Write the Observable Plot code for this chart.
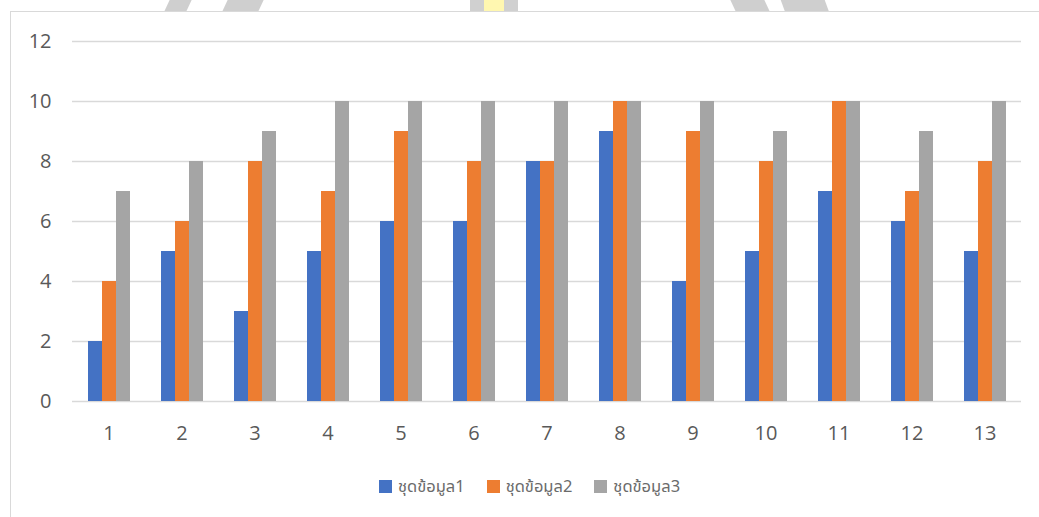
<!DOCTYPE html>
<html><head><meta charset="utf-8">
<script src="https://cdn.jsdelivr.net/npm/d3@7"></script>
<script src="https://cdn.jsdelivr.net/npm/@observablehq/plot@0.6"></script>
<style>
html,body{margin:0;padding:0;background:#fff;}
body{width:1039px;height:517px;overflow:hidden;position:relative;font-family:"Noto Sans Thai","Noto Sans","DejaVu Sans",sans-serif;}
#frame{position:absolute;left:10px;top:11px;width:1100px;height:600px;border:1.5px solid #d9d9d9;box-sizing:border-box;}
#chart{position:absolute;left:0;top:0;}
#legend{position:absolute;left:0;width:1039px;top:474px;display:flex;justify-content:center;gap:22px;padding-left:20px;box-sizing:border-box;font-size:16.5px;color:#6b6b6b;}
.item{display:flex;align-items:center;gap:6px;}
.sw{width:13px;height:13px;display:inline-block;}
.wm{position:absolute;top:-4px;height:15px;background:#cfcfcf;}
</style></head><body>
<div class="wm" style="left:168px;width:22px;transform:skewX(-25deg)"></div>
<div class="wm" style="left:226px;width:36px;transform:skewX(-25deg)"></div>
<div class="wm" style="left:470px;width:48px;background:#d0d0d0"></div>
<div class="wm" style="left:484px;width:20px;background:#fff7b0"></div>
<div class="wm" style="left:732px;width:34px;transform:skewX(25deg)"></div>
<div class="wm" style="left:782px;width:44px;transform:skewX(20deg)"></div>
<div id="frame"></div>
<div id="chart"></div>
<div id="legend"></div>
<script>
const categories = ["1","2","3","4","5","6","7","8","9","10","11","12","13"];
const seriesNames = ["ชุดข้อมูล1","ชุดข้อมูล2","ชุดข้อมูล3"];
const series1 = [2,5,3,5,6,6,8,9,4,5,7,6,5];
const series2 = [4,6,8,7,9,8,8,10,9,8,10,7,8];
const series3 = [7,8,9,10,10,10,10,10,10,9,10,9,10];
const colors = ["#4472C4","#ED7D31","#A5A5A5"];
const yTicks = [0,2,4,6,8,10,12];

const allSeries = [series1, series2, series3];
const data = categories.flatMap((c, i) => allSeries.map((s, j) => ({category: c, series: seriesNames[j], value: s[i]})));

const plot = Plot.plot({
  width: 1039, height: 450,
  marginTop: 41, marginBottom: 49, marginLeft: 67, marginRight: 13,
  style: {fontFamily: '"Open Sans","Noto Sans",sans-serif', fontSize: "20px", color: "#595959", background: "transparent", overflow: "visible"},
  fx: {domain: categories, padding: 0, label: null, tickSize: 0, tickPadding: 24, axis: "bottom"},
  x: {domain: seriesNames, paddingInner: 0, paddingOuter: 1, axis: null},
  y: {domain: [0, 12], ticks: yTicks, tickSize: 0, tickPadding: 21, label: null},
  color: {domain: seriesNames, range: colors},
  marks: [
    Plot.ruleY(yTicks, {stroke: "#d9d9d9", strokeWidth: 1.3}),
    Plot.barY(data, {fx: "category", x: "series", y: "value", fill: "series"})
  ]
});
plot.querySelectorAll("text").forEach(t => { t.style.fontSize = "20px"; });
document.getElementById("chart").appendChild(plot);

const legend = document.getElementById("legend");
seriesNames.forEach((name, i) => {
  const it = document.createElement("div");
  it.className = "item";
  const sw = document.createElement("span");
  sw.className = "sw";
  sw.style.background = colors[i];
  const t = document.createElement("span");
  t.textContent = name;
  it.appendChild(sw); it.appendChild(t);
  legend.appendChild(it);
});
</script>
</body></html>
